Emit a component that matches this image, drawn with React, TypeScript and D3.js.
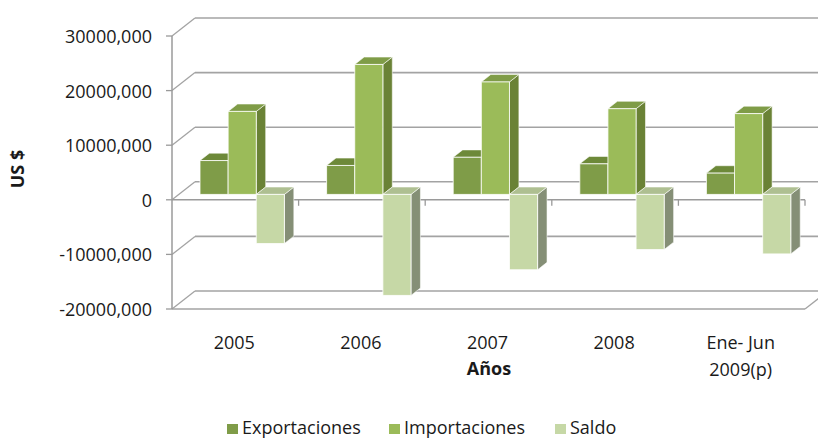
import * as d3 from "d3";

const categories = ["2005", "2006", "2007", "2008", "Ene- Jun\n2009(p)"];
const seriesNames = ["Exportaciones", "Importaciones", "Saldo"];
const exportaciones = [6200, 5300, 6800, 5600, 3900];
const importaciones = [15200, 23800, 20600, 15700, 14800];
const saldo = [-9000, -18500, -13800, -10100, -10900];
const yTicks = [-20000, -10000, 0, 10000, 20000, 30000];

const seriesValues = [exportaciones, importaciones, saldo];

// front / top / right-side shading per series
const seriesColors = [
  { front: "#7f9c48", top: "#6d8939", side: "#5f7830" },
  { front: "#9bbb59", top: "#7f9c47", side: "#6a8236" },
  { front: "#c6d8a6", top: "#aebf91", side: "#858f76" },
];

const fontFamily = "'Open Sans', 'Liberation Sans', sans-serif";
const fontSize = 18;

export default function App() {
  const width = 818;
  const height = 440;

  // front plane of the 3D box
  const x0 = 172;
  const x1 = 805;
  const yTop = 36;
  const yBottom = 309;
  // full depth offset of the box
  const depth = { dx: 23, dy: -18 };
  // bars sit in the middle of the depth
  const f0 = 0.3;
  const f1 = 0.71;

  const y = d3.scaleLinear().domain([-20000, 30000]).range([yBottom, yTop]);
  const xCat = d3.scaleBand().domain(categories).range([x0, x1]).padding(0);
  const xSer = d3
    .scaleBand()
    .domain(seriesNames)
    .range([0, xCat.bandwidth()])
    .paddingInner(0)
    .paddingOuter(0.75);

  const gridColor = "#a3a3a3";
  const axisColor = "#9a9a9a";

  const bar = (cat: string, ser: string, value: number, si: number) => {
    const bx = (xCat(cat) || 0) + (xSer(ser) || 0);
    const bw = xSer.bandwidth();
    const top = Math.min(y(0), y(value));
    const bot = Math.max(y(0), y(value));
    const xl = bx + depth.dx * f0;
    const xr = bx + bw + depth.dx * f0;
    const yt = top + depth.dy * f0;
    const yb = bot + depth.dy * f0;
    const ddx = depth.dx * (f1 - f0);
    const ddy = depth.dy * (f1 - f0);
    const c = seriesColors[si];
    const topFace = [
      [xl, yt],
      [xr, yt],
      [xr + ddx, yt + ddy],
      [xl + ddx, yt + ddy],
    ];
    const sideFace = [
      [xr, yt],
      [xr + ddx, yt + ddy],
      [xr + ddx, yb + ddy],
      [xr, yb],
    ];
    const pts = (p: number[][]) => p.map((d) => d.join(",")).join(" ");
    return (
      <g key={`${cat}-${ser}`}>
        <polygon points={pts(sideFace)} fill={c.side} stroke="#ffffff" strokeWidth={0.8} strokeOpacity={0.7} />
        <polygon points={pts(topFace)} fill={c.top} stroke="#ffffff" strokeWidth={0.8} strokeOpacity={0.7} />
        <rect x={xl} y={yt} width={xr - xl} height={yb - yt} fill={c.front} stroke="#ffffff" strokeWidth={1} strokeOpacity={0.8} />
      </g>
    );
  };

  const legendX = [227, 389, 555];

  return (
    <div style={{ position: "absolute", left: 0, top: 0 }}>
      <svg width={width} height={height} style={{ display: "block", background: "#fff" }}>
        {/* back wall gridlines + side wall diagonals */}
        {yTicks.map((t) => (
          <g key={`grid-${t}`}>
            <line
              x1={x0 + depth.dx}
              x2={x1 + depth.dx}
              y1={y(t) + depth.dy}
              y2={y(t) + depth.dy}
              stroke={gridColor}
              strokeWidth={1.6}
            />
            <line
              x1={x0}
              x2={x0 + depth.dx}
              y1={y(t)}
              y2={y(t) + depth.dy}
              stroke={gridColor}
              strokeWidth={1.3}
            />
            <line x1={x0 - 6} x2={x0} y1={y(t)} y2={y(t)} stroke={axisColor} strokeWidth={1.3} />
          </g>
        ))}

        {/* floor front edge and right edge */}
        <line x1={x0} x2={x1} y1={yBottom} y2={yBottom} stroke={gridColor} strokeWidth={1.6} />
        <line x1={x1} x2={x1 + depth.dx} y1={yBottom} y2={yBottom + depth.dy} stroke={gridColor} strokeWidth={1.3} />

        {/* vertical axis */}
        <line x1={x0} x2={x0} y1={yTop} y2={yBottom} stroke={axisColor} strokeWidth={1.5} />

        {/* category axis at zero */}
        <line x1={x0} x2={x1} y1={y(0)} y2={y(0)} stroke={axisColor} strokeWidth={1.5} />
        {categories.map((c) => (
          <line
            key={`tick-${c}`}
            x1={(xCat(c) || 0) + xCat.bandwidth()}
            x2={(xCat(c) || 0) + xCat.bandwidth()}
            y1={y(0)}
            y2={y(0) + 6}
            stroke={axisColor}
            strokeWidth={1.3}
          />
        ))}

        {/* bars */}
        {categories.map((c, ci) =>
          seriesNames.map((s, si) => bar(c, s, seriesValues[si][ci], si))
        )}

        {/* y tick labels */}
        {yTicks.map((t) => (
          <text
            key={`yl-${t}`}
            x={152}
            y={y(t)}
            textAnchor="end"
            dominantBaseline="central"
            fontFamily={fontFamily}
            fontSize={fontSize}
            fill="#1a1a1a"
          >
            {t === 0 ? "0" : `${t},000`}
          </text>
        ))}

        {/* category labels */}
        {categories.map((c) => {
          const cx = (xCat(c) || 0) + xCat.bandwidth() / 2 - 1;
          return (
            <text
              key={`xl-${c}`}
              x={cx}
              y={349}
              textAnchor="middle"
              fontFamily={fontFamily}
              fontSize={fontSize}
              fill="#1a1a1a"
            >
              {c.split("\n").map((line, i) => (
                <tspan key={i} x={cx} dy={i === 0 ? 0 : 27}>
                  {line}
                </tspan>
              ))}
            </text>
          );
        })}

        {/* axis titles */}
        <text
          transform="translate(24,169) rotate(-90)"
          textAnchor="middle"
          fontFamily={fontFamily}
          fontSize={fontSize}
          fontWeight="bold"
          fill="#1a1a1a"
        >
          US $
        </text>
        <text x={489} y={375} textAnchor="middle" fontFamily={fontFamily} fontSize={fontSize} fontWeight="bold" fill="#1a1a1a">
          Años
        </text>

        {/* legend */}
        {seriesNames.map((s, i) => (
          <g key={`lg-${s}`}>
            <rect x={legendX[i]} y={424} width={11} height={10} fill={seriesColors[i].front} />
            <text x={legendX[i] + 15} y={434} fontFamily={fontFamily} fontSize={fontSize} fill="#1a1a1a">
              {s}
            </text>
          </g>
        ))}
      </svg>
    </div>
  );
}
